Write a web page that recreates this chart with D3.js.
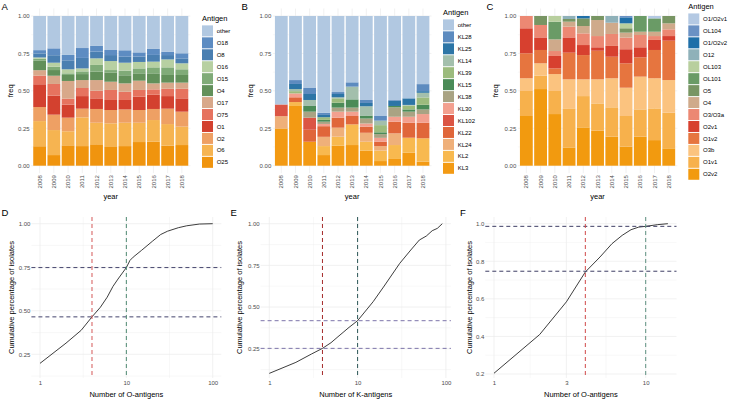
<!DOCTYPE html>
<html><head><meta charset="utf-8">
<script src="https://cdn.jsdelivr.net/npm/d3@7"></script>
<style>
body{margin:0;background:#fff}
text{font-family:"Liberation Sans",Arial,Helvetica,sans-serif}
</style>
</head><body>
<svg id="c" width="729" height="400"></svg>
<script>
// ---------------- DATA ----------------
const years = ["2008","2009","2010","2011","2012","2013","2014","2015","2016","2017","2018"];

// Panel A (stack order bottom -> top)
const antigensA = ["O25","O6","O2","O1","O75","O17","O4","O15","O16","O8","O18","other"];
const freqA = [
 [0.130,0.071,0.136,0.131,0.143,0.125,0.131,0.158,0.160,0.134,0.138],
 [0.168,0.167,0.094,0.192,0.144,0.158,0.156,0.129,0.145,0.144,0.123],
 [0.094,0.103,0.091,0.058,0.092,0.089,0.089,0.085,0.074,0.103,0.100],
 [0.152,0.127,0.087,0.084,0.071,0.067,0.063,0.089,0.095,0.084,0.089],
 [0.058,0.078,0.040,0.054,0.051,0.067,0.055,0.045,0.036,0.049,0.064],
 [0.036,0.055,0.118,0.053,0.071,0.055,0.056,0.062,0.040,0.041,0.041],
 [0.063,0.038,0.040,0.040,0.056,0.060,0.054,0.049,0.067,0.051,0.051],
 [0.013,0.022,0.011,0.018,0.045,0.018,0.031,0.033,0.040,0.051,0.038],
 [0.009,0.027,0.027,0.020,0.044,0.060,0.053,0.043,0.038,0.053,0.040],
 [0.027,0.050,0.060,0.070,0.045,0.040,0.040,0.036,0.045,0.029,0.033],
 [0.022,0.046,0.036,0.066,0.038,0.034,0.043,0.028,0.040,0.023,0.034],
 [0.228,0.216,0.260,0.214,0.200,0.227,0.229,0.243,0.220,0.238,0.249]
];
const colorsA = ["#f0940e","#f6b451","#eea064","#d3412f","#e6735f","#d8a88a","#62905a","#80ab78","#b7d0a2","#4a7fb1","#5d8cc2","#b1c8e1"];

// Panel B
const antigensB = ["KL3","KL2","KL24","KL22","KL102","KL30","KL38","KL15","KL39","KL14","KL25","KL28","other"];
const freqB = [
 [0.249,0.399,0.160,0.071,0.134,0.138,0.100,0.031,0.045,0.087,0.027],
 [0.000,0.026,0.000,0.060,0.060,0.138,0.060,0.070,0.093,0.100,0.156],
 [0.082,0.000,0.000,0.062,0.060,0.000,0.060,0.030,0.078,0.000,0.000],
 [0.000,0.032,0.080,0.071,0.067,0.056,0.040,0.030,0.078,0.100,0.104],
 [0.078,0.000,0.081,0.000,0.000,0.000,0.000,0.000,0.000,0.000,0.000],
 [0.000,0.026,0.000,0.015,0.040,0.029,0.022,0.025,0.033,0.040,0.058],
 [0.000,0.000,0.040,0.015,0.027,0.027,0.033,0.025,0.063,0.034,0.031],
 [0.000,0.000,0.038,0.012,0.033,0.055,0.020,0.012,0.009,0.015,0.031],
 [0.000,0.015,0.000,0.018,0.029,0.000,0.000,0.048,0.000,0.025,0.049],
 [0.000,0.014,0.040,0.000,0.007,0.085,0.062,0.030,0.000,0.005,0.031],
 [0.000,0.034,0.040,0.015,0.022,0.000,0.022,0.000,0.035,0.044,0.011],
 [0.000,0.026,0.040,0.015,0.013,0.029,0.020,0.031,0.005,0.000,0.047],
 [0.591,0.428,0.481,0.646,0.508,0.443,0.561,0.668,0.561,0.550,0.455]
];
const colorsB = ["#f39a13","#f8b94f","#efb07a","#e0663a","#db5544","#f3a08f","#a9a383","#4b8b57","#9cbb7d","#a3bfac","#2d75a6","#5d8bbf","#b1c8e1"];

// Panel C
const antigensC = ["O2v2","O1v1","O3b","O1v2","O2v1","O3/O3a","O4","O5","OL101","OL103","O12","O1/O2v2","OL104","O1/O2v1"];
const freqC = [
 [0.332,0.512,0.345,0.122,0.256,0.234,0.194,0.127,0.194,0.171,0.116],
 [0.167,0.089,0.154,0.261,0.209,0.182,0.196,0.205,0.182,0.212,0.238],
 [0.085,0.083,0.113,0.194,0.112,0.161,0.194,0.189,0.219,0.201,0.218],
 [0.167,0.089,0.038,0.178,0.162,0.191,0.144,0.163,0.129,0.189,0.263],
 [0.167,0.084,0.083,0.102,0.067,0.023,0.072,0.094,0.067,0.067,0.031],
 [0.082,0.083,0.033,0.072,0.078,0.075,0.080,0.078,0.082,0.026,0.045],
 [0.000,0.000,0.078,0.033,0.049,0.107,0.075,0.033,0.022,0.029,0.040],
 [0.000,0.060,0.000,0.018,0.051,0.027,0.000,0.029,0.000,0.000,0.049],
 [0.000,0.000,0.118,0.000,0.000,0.000,0.000,0.000,0.105,0.089,0.000],
 [0.000,0.000,0.038,0.000,0.000,0.000,0.000,0.033,0.000,0.000,0.000],
 [0.000,0.000,0.000,0.020,0.000,0.000,0.045,0.000,0.000,0.000,0.000],
 [0.000,0.000,0.000,0.000,0.016,0.000,0.000,0.040,0.000,0.000,0.000],
 [0.000,0.000,0.000,0.000,0.000,0.000,0.000,0.009,0.000,0.000,0.000],
 [0.000,0.000,0.000,0.000,0.000,0.000,0.000,0.000,0.000,0.016,0.000]
];
const colorsC = ["#f29a0f","#f7b14c","#fbc37f","#e6753f","#d7402f","#ec8873","#cfaa8b","#789563","#6a9b66","#b8cf9e","#8fb1b9","#1f6fa8","#6a91c4","#b4c9e3"];

const freqTicks = [0, 0.25, 0.5, 0.75, 1];

// Cumulative curves
const xD = [1,2,3,4,5,6,7,8,9,10,11,12,15,20,25,30,40,50,70,100];
const yD = [0.198,0.314,0.388,0.465,0.520,0.578,0.640,0.682,0.717,0.748,0.789,0.808,0.847,0.899,0.938,0.957,0.977,0.988,0.998,1.000];
const xE = [1,2,3,4,5,6,7,8,10,15,20,30,40,50,60,70,80,91];
const yE = [0.102,0.168,0.218,0.252,0.286,0.322,0.352,0.378,0.418,0.532,0.626,0.762,0.842,0.902,0.926,0.958,0.972,1.000];
const xF = [1,2,3,4,5,6,7,8,9,10,12,14];
const yF = [0.204,0.410,0.584,0.743,0.823,0.894,0.938,0.968,0.982,0.986,0.995,1.000];
const cutX = [4, 10];
const cutD = [0.465, 0.748];
const cutE = [0.252, 0.418];
const cutF = [0.747, 0.986];
const ticksYDE = [0.25, 0.5, 0.75, 1];
const ticksYF = [0.2, 0.4, 0.6, 0.8, 1];
const ticksXDE = [1, 10, 100];
const ticksXF = [1, 3, 10];

// ---------------- DRAW ----------------
const svg = d3.select("#c");
const GRID = "#ebebeb", TXT = "#4d4d4d", FONT = "Liberation Sans, Arial, sans-serif";

function letter(t, x, y) {
  svg.append("text").attr("x", x).attr("y", y).attr("font-size", 9.5).attr("fill", "#000").text(t);
}

function barPanel(o) {
  const g = svg.append("g");
  const x = d3.scaleBand().domain(years).range([o.left, o.right]).paddingInner(0.1).paddingOuter(0.15);
  const y = d3.scaleLinear().domain([0, 1]).range([o.y0, o.y1]);
  const top = y(1.05), bottom = y(-0.05);
  [0.125, 0.375, 0.625, 0.875].forEach(v => g.append("line").attr("x1", o.left).attr("x2", o.right)
    .attr("y1", y(v)).attr("y2", y(v)).attr("stroke", GRID).attr("stroke-width", 0.35));
  freqTicks.forEach(v => g.append("line").attr("x1", o.left).attr("x2", o.right)
    .attr("y1", y(v)).attr("y2", y(v)).attr("stroke", GRID).attr("stroke-width", 0.7));
  years.forEach(yr => g.append("line").attr("x1", x(yr) + x.bandwidth() / 2).attr("x2", x(yr) + x.bandwidth() / 2)
    .attr("y1", top).attr("y2", bottom).attr("stroke", GRID).attr("stroke-width", 0.7));
  const table = years.map((yr, i) => {
    const r = { year: yr };
    o.names.forEach((n, k) => r[n] = o.values[k][i]);
    return r;
  });
  const series = d3.stack().keys(o.names)(table);
  series.forEach((s, k) => {
    g.append("g").attr("fill", o.colors[k]).selectAll("rect").data(s).join("rect")
      .attr("x", d => x(d.data.year)).attr("width", x.bandwidth())
      .attr("y", d => y(d[1])).attr("height", d => Math.max(0, y(d[0]) - y(d[1])));
  });
  const ay = g.append("g").attr("transform", `translate(${o.left - 1.5},0)`)
    .call(d3.axisLeft(y).tickValues(freqTicks).tickFormat(d3.format(".2f")).tickSize(0).tickPadding(0));
  ay.select(".domain").remove();
  ay.selectAll("text").attr("font-size", 6).attr("fill", TXT).style("font-family", FONT);
  const ax = g.append("g").attr("transform", `translate(0,${bottom})`)
    .call(d3.axisBottom(x).tickSize(0).tickPadding(0));
  ax.select(".domain").remove();
  ax.selectAll("text").attr("font-size", 6).attr("fill", TXT).style("font-family", FONT)
    .attr("transform", "rotate(-90)").attr("x", -2).attr("y", 0).attr("dy", "0.35em").style("text-anchor", "end");
  g.append("text").attr("x", (o.left + o.right) / 2).attr("y", 198.6).attr("text-anchor", "middle")
    .attr("font-size", 7.5).attr("fill", "#000").text("year");
  g.append("text").attr("transform", `translate(${o.ytx},${(top + bottom) / 2}) rotate(-90)`)
    .attr("text-anchor", "middle").attr("dy", "0.35em").attr("font-size", 7.5).attr("fill", "#000").text("freq");
  const n = o.names.length, step = 11.95;
  const first = 96.6 - (n - 1) / 2 * step;
  const lg = g.append("g");
  lg.append("text").attr("x", o.lx).attr("y", first - 12.5 + 2.7).attr("font-size", 7.5).attr("fill", "#000").text("Antigen");
  const order = o.names.slice().reverse();
  const ocol = o.colors.slice().reverse();
  order.forEach((nm, i) => {
    const cy = first + i * step;
    lg.append("rect").attr("x", o.lx).attr("y", cy - 5.5).attr("width", 11).attr("height", 11).attr("fill", ocol[i]);
    lg.append("text").attr("x", o.lx + 14.7).attr("y", cy).attr("dy", "0.35em").attr("font-size", 6).attr("fill", "#000").text(nm);
  });
}

barPanel({ left: 31.1, right: 190.4, y0: 165.7, y1: 16, names: antigensA, values: freqA, colors: colorsA, lx: 202, ytx: 10 });
barPanel({ left: 272.8, right: 431.5, y0: 165.7, y1: 16, names: antigensB, values: freqB, colors: colorsB, lx: 443, ytx: 250 });
barPanel({ left: 517.8, right: 677.3, y0: 165.7, y1: 16, names: antigensC, values: freqC, colors: colorsC, lx: 688.3, ytx: 495.5 });
letter("A", 1.5, 9.5); letter("B", 241.5, 9.5); letter("C", 486.5, 9.5);

function linePanel(o) {
  const g = svg.append("g");
  const x = d3.scaleLog().domain(o.xdom).range(o.xrng);
  const y = d3.scaleLinear().domain(o.ydom).range(o.yrng);
  const T = 217, B = 378;
  const L = o.left, R = o.right;
  o.yminor.forEach(v => { if (y(v) >= T && y(v) <= B) g.append("line").attr("x1", L).attr("x2", R).attr("y1", y(v)).attr("y2", y(v)).attr("stroke", GRID).attr("stroke-width", 0.35); });
  o.xminor.forEach(v => { if (x(v) >= L && x(v) <= R) g.append("line").attr("x1", x(v)).attr("x2", x(v)).attr("y1", T).attr("y2", B).attr("stroke", GRID).attr("stroke-width", 0.35); });
  o.yticks.forEach(v => g.append("line").attr("x1", L).attr("x2", R).attr("y1", y(v)).attr("y2", y(v)).attr("stroke", GRID).attr("stroke-width", 0.7));
  o.xticks.forEach(v => g.append("line").attr("x1", x(v)).attr("x2", x(v)).attr("y1", T).attr("y2", B).attr("stroke", GRID).attr("stroke-width", 0.7));
  const pts = o.xs.map((v, i) => [v, o.ys[i]]);
  g.append("path").datum(pts).attr("fill", "none").attr("stroke", "#1a1a1a").attr("stroke-width", 0.85)
    .attr("d", d3.line().x(d => x(d[0])).y(d => y(d[1])));
  const DASH = "4,3", DW = 1.0;
  o.hcuts.forEach(v => g.append("line").attr("x1", L).attr("x2", R).attr("y1", y(v)).attr("y2", y(v))
    .attr("stroke", o.hcol).attr("stroke-width", DW).attr("stroke-dasharray", DASH));
  g.append("line").attr("x1", x(cutX[0])).attr("x2", x(cutX[0])).attr("y1", T).attr("y2", B)
    .attr("stroke", o.rcol).attr("stroke-width", DW).attr("stroke-dasharray", DASH);
  g.append("line").attr("x1", x(cutX[1])).attr("x2", x(cutX[1])).attr("y1", T).attr("y2", B)
    .attr("stroke", o.gcol).attr("stroke-width", DW).attr("stroke-dasharray", DASH);
  const ay = g.append("g").attr("transform", `translate(${L - 1},0)`)
    .call(d3.axisLeft(y).tickValues(o.yticks).tickFormat(d3.format(o.yfmt)).tickSize(0).tickPadding(0));
  ay.select(".domain").remove();
  ay.selectAll("text").attr("font-size", 6).attr("fill", TXT).style("font-family", FONT);
  const ax = g.append("g").attr("transform", `translate(0,${B + 1})`)
    .call(d3.axisBottom(x).tickValues(o.xticks).tickFormat(d3.format("d")).tickSize(0).tickPadding(0));
  ax.select(".domain").remove();
  ax.selectAll("text").attr("font-size", 6).attr("fill", TXT).style("font-family", FONT).attr("dy", "0.95em");
  g.append("text").attr("x", (L + R) / 2).attr("y", 397).attr("text-anchor", "middle").attr("font-size", 7.5).attr("fill", "#000").text(o.xtitle);
  g.append("text").attr("transform", `translate(${o.ytx},${(T + B) / 2}) rotate(-90)`).attr("text-anchor", "middle")
    .attr("dy", "0.35em").attr("font-size", 7.5).attr("fill", "#000").text("Cumulative percentage of isolates");
}

const minorDE = [0.125, 0.375, 0.625, 0.875];
linePanel({ left: 31.4, right: 221.3, xdom: [1, 100], xrng: [40, 212.7], ydom: [0.25, 1], yrng: [354.3, 223.7],
  xs: xD, ys: yD, hcuts: cutD, xticks: ticksXDE, yticks: ticksYDE, xminor: [Math.pow(10, 0.5), Math.pow(10, 1.5)], yminor: minorDE,
  yfmt: ".2f", xtitle: "Number of O-antigens", ytx: 11, rcol: "#d45858", gcol: "#4f8a72", hcol: "#44446c" });
linePanel({ left: 260.6, right: 450.9, xdom: [1, 100], xrng: [269.3, 445.9], ydom: [0.25, 1], yrng: [348.7, 223.7],
  xs: xE, ys: yE, hcuts: cutE, xticks: ticksXDE, yticks: ticksYDE, xminor: [Math.pow(10, 0.5), Math.pow(10, 1.5)], yminor: minorDE,
  yfmt: ".2f", xtitle: "Number of K-antigens", ytx: 239.5, rcol: "#a52a2a", gcol: "#2a5555", hcol: "#7d74aa" });
linePanel({ left: 485.3, right: 676.5, xdom: [1, 10], xrng: [494, 645.7], ydom: [0.2, 1], yrng: [374, 223.7],
  xs: xF, ys: yF, hcuts: cutF, xticks: ticksXF, yticks: ticksYF, xminor: [Math.pow(10, 0.2386), Math.pow(10, 0.7386)], yminor: [0.3, 0.5, 0.7, 0.9],
  yfmt: ".1f", xtitle: "Number of O-antigens", ytx: 469, rcol: "#d04a4a", gcol: "#5f9282", hcol: "#3e3e64" });
letter("D", 1.5, 216); letter("E", 230.5, 216); letter("F", 460, 216);
</script>
</body></html>
